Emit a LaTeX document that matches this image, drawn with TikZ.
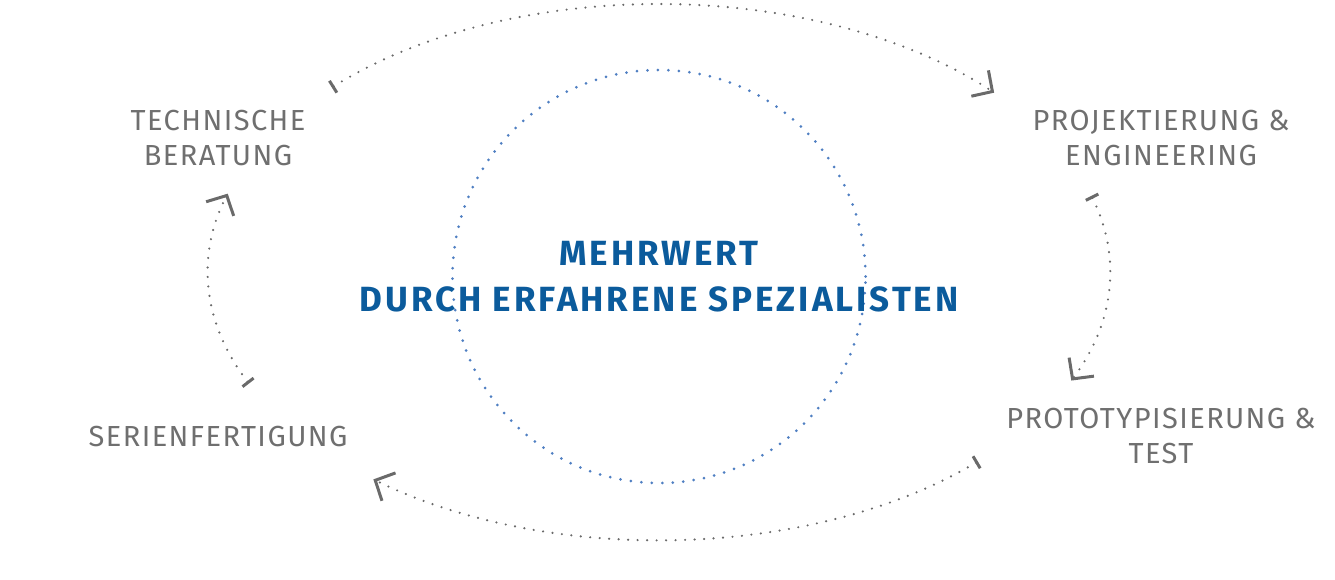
\documentclass[tikz,border=0pt]{standalone}
\usepackage{fontspec}
\setmainfont{Fira Sans}
\usetikzlibrary{arrows.meta,calc}
\definecolor{txtgray}{HTML}{6F6F6F}
\definecolor{arrgray}{HTML}{6A6A6A}
\definecolor{dotblue}{HTML}{4F7FC2}
\definecolor{titleblue}{HTML}{0B5B9C}
\begin{document}
\begin{tikzpicture}[x=1pt,y=1pt,
  lbl/.style={text=txtgray, align=center, inner sep=0pt, font=\addfontfeatures{LetterSpace=5}\fontsize{29}{35}\selectfont},
  cyc/.style={draw=arrgray, line width=2.4pt, dash pattern=on 0pt off 9.5pt, line cap=round,
    {Bar[width=14pt,line width=3pt]}-{Straight Barb[length=15pt,width=31pt,line width=3pt]}},
  ring/.style={circle, draw=dotblue, line width=3pt, dash pattern=on 0pt off 10.5pt, line cap=round,
    minimum size=413pt, inner sep=0pt},
  ttl/.style={text=titleblue, align=center, inner sep=0pt, font=\bfseries\addfontfeatures{LetterSpace=8.5}\fontsize{35}{46}\selectfont}
]
\useasboundingbox (0,0) rectangle (1335,-579);
\coordinate (E) at (659,-272);
\node[ring] (core) at (659,-276.5) {};
\node[ttl] (title) at (core.center) {MEHRWERT\\DURCH ERFAHRENE SPEZIALISTEN};
\node[lbl] (tb) at (218,-138.5) {TECHNISCHE\\BERATUNG};
\node[lbl] (pe) at (1161,-138.5) {PROJEKTIERUNG \&\\ENGINEERING};
\node[lbl] (pt) at (1161,-436) {PROTOTYPISIERUNG \&\\TEST};
\node[lbl] (sf) at (218,-436) {SERIENFERTIGUNG};
\coordinate (s1) at ($(E)+(136.5:451 and 268)$);
\coordinate (s2) at ($(E)+(16.5:451 and 268)$);
\coordinate (s3) at ($(E)+(-45:451 and 268)$);
\coordinate (s4) at ($(E)+(204.6:451 and 268)$);
\draw[cyc] (s1) arc[start angle=136.5, end angle=42, x radius=451, y radius=268];
\draw[cyc] (s2) arc[start angle=16.5, end angle=-23.9, x radius=451, y radius=268];
\draw[cyc] (s3) arc[start angle=-45, end angle=-129.3, x radius=451, y radius=268];
\draw[cyc] (s4) arc[start angle=204.6, end angle=163, x radius=451, y radius=268];
\end{tikzpicture}
\end{document}
